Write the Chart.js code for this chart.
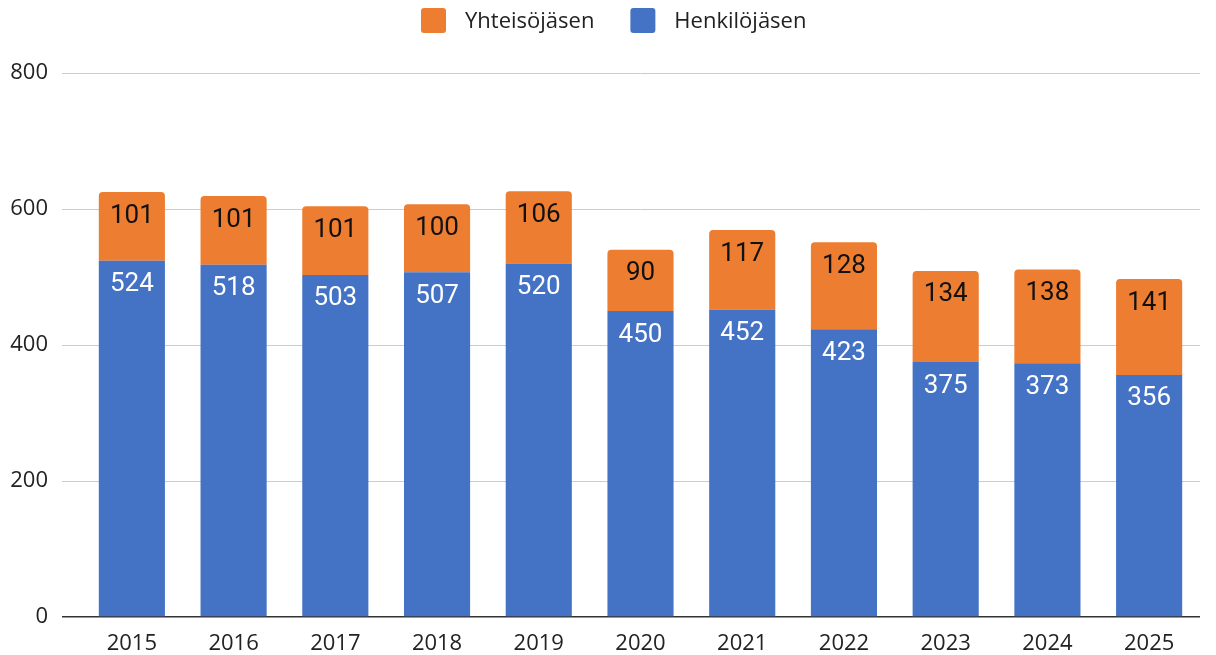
<!DOCTYPE html>
<html>
<head>
<meta charset="utf-8">
<script src="https://cdn.jsdelivr.net/npm/chart.js@4"></script>
<style>
html,body{margin:0;padding:0;background:#fff;}
#wrap{width:1216px;height:655px;position:relative;}
</style>
</head>
<body>
<div id="wrap"><canvas id="c" width="1216" height="655"></canvas></div>
<script>
const years = ['2015','2016','2017','2018','2019','2020','2021','2022','2023','2024','2025'];
const henkilojasen = [524,518,503,507,520,450,452,423,375,373,356];
const yhteisojasen = [101,101,101,100,106,90,117,128,134,138,141];
const yTicks = [0,200,400,600,800];

const BLUE = '#4472C4';
const ORANGE = '#ED7D31';

function rr(ctx, x, y, w, h, r) {
  ctx.beginPath();
  ctx.moveTo(x + r, y);
  ctx.lineTo(x + w - r, y);
  ctx.quadraticCurveTo(x + w, y, x + w, y + r);
  ctx.lineTo(x + w, y + h - r);
  ctx.quadraticCurveTo(x + w, y + h, x + w - r, y + h);
  ctx.lineTo(x + r, y + h);
  ctx.quadraticCurveTo(x, y + h, x, y + h - r);
  ctx.lineTo(x, y + r);
  ctx.quadraticCurveTo(x, y, x + r, y);
  ctx.closePath();
}

const legendPlugin = {
  id: 'customLegend',
  afterDraw(chart) {
    const ctx = chart.ctx;
    const items = chart.data.datasets.slice().reverse();
    ctx.save();
    ctx.font = '22px "Open Sans"';
    const box = 25, gap = 19, itemGap = 36;
    const widths = items.map(d => ctx.measureText(d.label).width);
    let x = 421;
    const cy = 20.5;
    items.forEach((d, i) => {
      ctx.fillStyle = d.backgroundColor;
      rr(ctx, x, cy - box / 2, box, box, 3);
      ctx.fill();
      ctx.fillStyle = '#222';
      ctx.textBaseline = 'middle';
      ctx.textAlign = 'left';
      ctx.fillText(d.label, x + box + gap, cy + 1);
      x += box + gap + widths[i] + itemGap;
    });
    ctx.restore();
  }
};

const labelPlugin = {
  id: 'barLabels',
  afterDatasetsDraw(chart) {
    const ctx = chart.ctx;
    ctx.save();
    ctx.font = '26px Roboto';
    ctx.textAlign = 'center';
    ctx.textBaseline = 'middle';
    chart.data.datasets.forEach((ds, di) => {
      const meta = chart.getDatasetMeta(di);
      meta.data.forEach((el, i) => {
        const top = Math.min(el.y, el.base);
        ctx.fillStyle = ds.labelColor;
        ctx.fillText(String(ds.data[i]), el.x, top + 24);
      });
    });
    ctx.restore();
  }
};

new Chart(document.getElementById('c'), {
  type: 'bar',
  data: {
    labels: years,
    datasets: [
      {
        label: 'Henkilöjäsen',
        data: henkilojasen,
        backgroundColor: BLUE,
        labelColor: '#ffffff',
        borderRadius: 0,
        barPercentage: 0.65,
        categoryPercentage: 1.0
      },
      {
        label: 'Yhteisöjäsen',
        data: yhteisojasen,
        backgroundColor: ORANGE,
        labelColor: '#111111',
        borderRadius: {topLeft: 4, topRight: 4, bottomLeft: 0, bottomRight: 0},
        borderSkipped: 'bottom',
        barPercentage: 0.65,
        categoryPercentage: 1.0
      }
    ]
  },
  options: {
    responsive: false,
    animation: false,
    devicePixelRatio: 1,
    layout: { padding: { top: 73, left: 10, right: 16, bottom: 0 } },
    plugins: {
      legend: { display: false },
      tooltip: { enabled: false }
    },
    scales: {
      x: {
        stacked: true,
        afterFit(scale) { scale.height = 38; },
        grid: { display: false, drawTicks: false },
        border: { display: false },
        ticks: {
          font: { family: 'Open Sans', size: 22 },
          color: '#222',
          padding: 13.5
        }
      },
      y: {
        stacked: true,
        min: 0,
        max: 800,
        afterFit(scale) { scale.width = 71; },
        afterBuildTicks(scale) { scale.ticks = yTicks.map(v => ({ value: v })); },
        grid: {
          color: ctx => (ctx.tick && ctx.tick.value === 0) ? '#333' : '#cccccc',
          tickColor: ctx => (ctx.tick && ctx.tick.value === 0) ? '#333' : '#cccccc',
          lineWidth: ctx => (ctx.tick && ctx.tick.value === 0) ? 1.5 : 1,
          drawTicks: true,
          tickLength: 19
        },
        border: { display: false },
        ticks: {
          font: { family: 'Open Sans', size: 22 },
          color: '#222',
          padding: 14
        }
      }
    }
  },
  plugins: [labelPlugin, legendPlugin]
});
</script>
</body>
</html>
